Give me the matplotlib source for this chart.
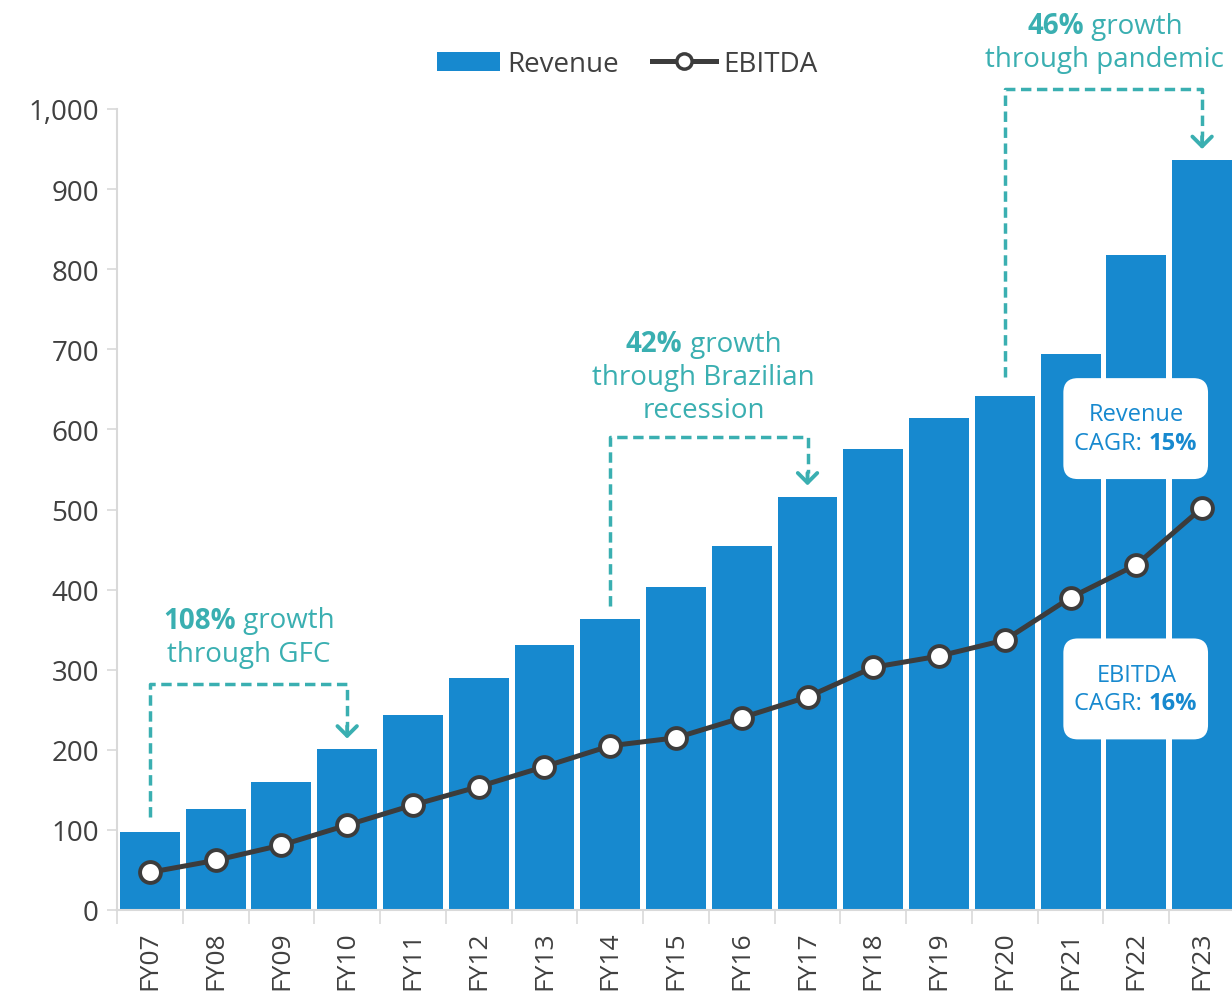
import matplotlib
matplotlib.use('Agg')
from matplotlib import pyplot as plt
from matplotlib import transforms as mtransforms
from matplotlib.patches import FancyBboxPatch, Patch
from matplotlib.lines import Line2D
import numpy as np

plt.rcParams['font.family'] = ['Open Sans', 'DejaVu Sans']

# Revenue and EBITDA by financial year
years = ['FY07', 'FY08', 'FY09', 'FY10', 'FY11', 'FY12', 'FY13', 'FY14', 'FY15',
         'FY16', 'FY17', 'FY18', 'FY19', 'FY20', 'FY21', 'FY22', 'FY23']
revenue = [97, 126, 160, 201, 243, 290, 331, 363, 403, 454, 516, 576, 614, 642, 694, 818, 936]
ebitda = [47, 62, 81, 106, 131, 154, 179, 205, 215, 240, 266, 303, 317, 337, 390, 431, 502]

BLUE = '#1789CF'
TEAL = '#3AAFB1'
DARK = '#3C3C3C'
GREY = '#D9D9D9'
TXT = '#404040'

fig = plt.figure(figsize=(12.32, 9.95), dpi=100)
ax = fig.add_axes([117/1232, 84/995, 1118/1232, 801/995])

x = np.arange(len(years))
ax.bar(x, revenue, width=0.91, color=BLUE, zorder=2)
ax.plot(x, ebitda, color=DARK, lw=3.6, marker='o', ms=15, mfc='white',
        mec=DARK, mew=2.8, zorder=4)

ax.set_xlim(-0.5, len(years) - 0.5)
ax.set_ylim(0, 1000)
ax.set_yticks(np.arange(0, 1001, 100))
ax.set_yticklabels([f'{v:,}' for v in range(0, 1001, 100)])
ax.set_xticks(x)
ax.set_xticklabels(years, rotation=90, va='top')
ax.set_xticks(np.arange(-0.5, len(years)), minor=True)

for s in ['top', 'right']:
    ax.spines[s].set_visible(False)
for s in ['left', 'bottom']:
    ax.spines[s].set_color(GREY)
    ax.spines[s].set_linewidth(1.5)
ax.tick_params(axis='y', length=7, width=1.2, color=GREY, pad=6, labelsize=20, labelcolor=TXT)
ax.tick_params(axis='x', which='major', length=0, pad=15, labelsize=19, labelcolor=TXT)
ax.tick_params(axis='x', which='minor', length=10, width=1.2, color=GREY)

renderer = fig.canvas.get_renderer()


def mixed_line(xc, yc, bold, rest, color, size):
    # bold part followed by regular part, centred on xc as one line
    t1 = ax.text(xc, yc, bold, weight='bold', color=color, fontsize=size, va='center', ha='left')
    t2 = ax.text(xc, yc, rest, color=color, fontsize=size, va='center', ha='left')
    w1 = t1.get_window_extent(renderer).width
    w2 = t2.get_window_extent(renderer).width
    start = -(w1 + w2) / 2
    t1.set_transform(mtransforms.offset_copy(ax.transData, fig=fig, x=start, y=0, units='dots'))
    t2.set_transform(mtransforms.offset_copy(ax.transData, fig=fig, x=start + w1, y=0, units='dots'))


def growth_arrow(x0, x1, y0, ytop, ytip):
    ax.plot([x0, x0, x1, x1], [y0, ytop, ytop, ytip + 16], color=TEAL, lw=2.5,
            dashes=(3.0, 1.6), clip_on=False, zorder=5, solid_capstyle='butt')
    ax.annotate('', xy=(x1, ytip), xytext=(0, 9), textcoords='offset points',
                arrowprops=dict(arrowstyle='->,head_length=0.7,head_width=0.7',
                                color=TEAL, lw=2.8, shrinkA=0, shrinkB=0),
                annotation_clip=False, zorder=5)


# growth call-outs
growth_arrow(0, 3, 116, 282, 214)
mixed_line(1.5, 362, '108%', ' growth', TEAL, 20)
ax.text(1.5, 320, 'through GFC', color=TEAL, fontsize=20, ha='center', va='center')

growth_arrow(7, 10, 380, 590, 530)
mixed_line(8.42, 707, '42%', ' growth', TEAL, 20)
ax.text(8.42, 665, 'through Brazilian', color=TEAL, fontsize=20, ha='center', va='center')
ax.text(8.42, 624, 'recession', color=TEAL, fontsize=20, ha='center', va='center')

growth_arrow(13, 16, 665, 1025, 950)
mixed_line(14.52, 1104, '46%', ' growth', TEAL, 20)
ax.text(14.52, 1062, 'through pandemic', color=TEAL, fontsize=20, ha='center', va='center',
        clip_on=False)

# CAGR boxes
aspect = (801 / 1000) ** -1 * (1118 / 17)
for yb, name, cagr in [(538, 'Revenue', '15%'), (213, 'EBITDA', '16%')]:
    box = FancyBboxPatch((13.89, yb), 2.2, 126, boxstyle='round,pad=0,rounding_size=0.22',
                         mutation_aspect=aspect, facecolor='white', edgecolor='none', zorder=6)
    ax.add_patch(box)
    ax.text(15.0, yb + 81, name, color=BLUE, fontsize=17, ha='center', va='center', zorder=7)
    ax.text(15.18, yb + 45, 'CAGR: ', color=BLUE, fontsize=17, ha='right', va='center', zorder=7)
    ax.text(15.18, yb + 45, cagr, color=BLUE, fontsize=17, weight='bold', ha='left', va='center', zorder=7)

handles = [Patch(facecolor=BLUE, edgecolor='none'),
           Line2D([], [], color=DARK, lw=3.6, marker='o', ms=11, mfc='white', mec=DARK, mew=2.5)]
fig.legend(handles, ['Revenue', 'EBITDA'], loc='center', bbox_to_anchor=(627/1232, 1 - 65/995),
           ncol=2, frameon=False, fontsize=20, handlelength=2.3, handletextpad=0.25,
           columnspacing=1.2, labelcolor=TXT)

fig.savefig('out.png', dpi=100)
